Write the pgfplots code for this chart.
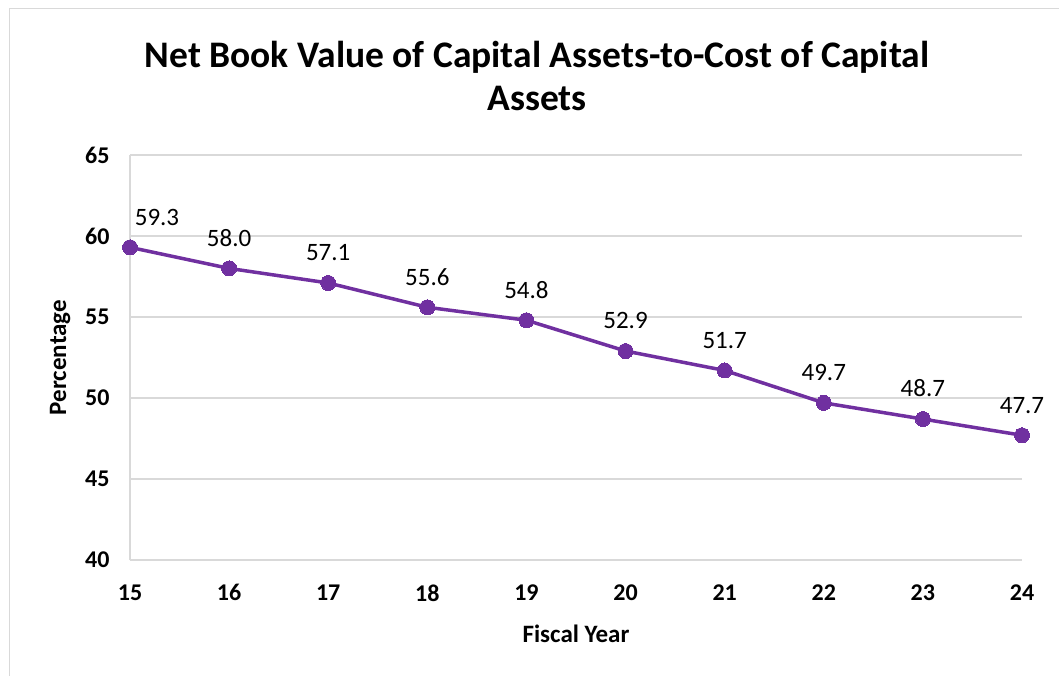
\documentclass[border=0pt]{standalone}
\usepackage{pgfplots}
\pgfplotsset{compat=1.18}
\usepackage{fontspec}
\setmainfont{Carlito}
\definecolor{lineP}{HTML}{7030A0}
\definecolor{gridG}{HTML}{D9D9D9}
\begin{document}
\begin{tikzpicture}[x=1pt,y=1pt]
\path[use as bounding box] (0,0) rectangle (1059,675);
\draw[gridG, line width=1.5pt] (9.5,-5) -- (9.5,666.5) -- (1065,666.5);
\node[font=\bfseries\fontsize{37.5}{37.5}\selectfont, anchor=base] at (537,675-68) {Net Book Value of Capital Assets-to-Cost of Capital};
\node[font=\bfseries\fontsize{37.5}{37.5}\selectfont, anchor=base] at (537,675-111) {Assets};
\begin{axis}[
  at={(130pt,115pt)}, anchor=south west,
  scale only axis, width=892pt, height=405pt,
  xmin=15, xmax=24, ymin=40, ymax=65,
  xtick={15,...,24}, ytick={40,45,...,65},
  axis x line=bottom, axis y line=left,
  axis line style={gridG, line width=1.5pt, -},
  ymajorgrids, grid style={gridG, line width=1.5pt},
  major tick length=0pt,
  /pgf/number format/assume math mode=true,
  ticklabel style={font=\bfseries\fontsize{24}{24}\selectfont},
  yticklabel style={xshift=-17pt},
  xticklabel style={yshift=-21pt},
  xlabel={Fiscal Year}, ylabel={Percentage},
  xlabel style={font=\bfseries\fontsize{25}{25}\selectfont, yshift=-17pt},
  ylabel style={font=\bfseries\fontsize{25}{25}\selectfont, yshift=8pt},
  clip=false,
]
\addplot[lineP, line width=3.5pt, mark=*, mark size=7.5pt, mark options={fill=lineP, draw=lineP, line width=0pt},
  point meta=explicit,
  visualization depends on={value \thisrow{dx} \as \dx},
  nodes near coords={\pgfmathprintnumber[fixed,fixed zerofill,precision=1]{\pgfplotspointmeta}},
  every node near coord/.append style={font=\fontsize{25}{25}\selectfont, text=black, anchor=south, inner sep=0pt, yshift=22pt, xshift=\dx pt},
] table[x=x, y=y, meta=y] {
x y dx
15 59.3 27
16 58.0 0
17 57.1 0
18 55.6 0
19 54.8 0
20 52.9 0
21 51.7 0
22 49.7 0
23 48.7 0
24 47.7 0
};
\end{axis}
\end{tikzpicture}
\end{document}
